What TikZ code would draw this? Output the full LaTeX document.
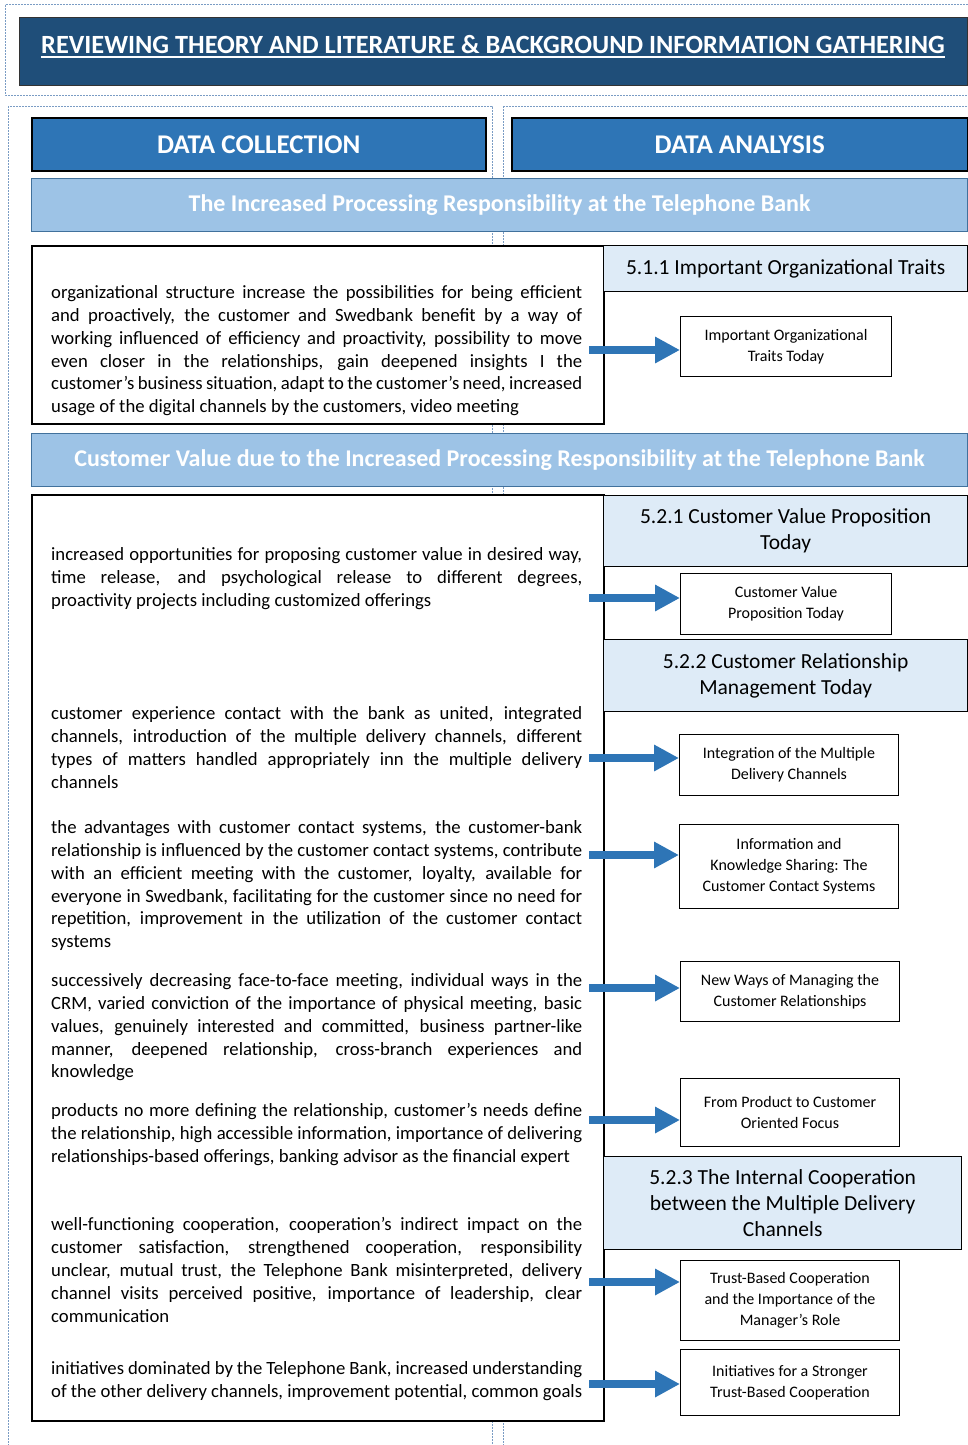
\documentclass[tikz,border=0pt]{standalone}
\usepackage{fontspec}
\setmainfont{Carlito}
\usepackage{tikz}
\usetikzlibrary{positioning}
\usetikzlibrary{arrows.meta}
\definecolor{darkhead}{HTML}{1F4E79}
\definecolor{midblue}{HTML}{2E75B6}
\definecolor{lightband}{HTML}{9DC3E6}
\definecolor{bandline}{HTML}{41719C}
\definecolor{palehead}{HTML}{DEEBF7}
\definecolor{dotline}{HTML}{7A9CC4}

\begin{document}
\begin{tikzpicture}[x=1pt,y=-1pt,
  frame/.style={draw=dotline,line width=1pt,dash pattern=on 2pt off 1pt},
  colhead/.style={draw=black,line width=1.5pt,fill=midblue,text=white,anchor=north west,inner sep=0pt,
    minimum height=53pt,font=\fontsize{27}{30}\selectfont\bfseries},
  band/.style={draw=bandline,line width=1.2pt,fill=lightband,text=white,anchor=north west,inner sep=0pt,
    minimum width=936pt,minimum height=53pt,font=\fontsize{24}{28}\selectfont\bfseries},
  textbox/.style={draw=black,line width=1.5pt,fill=white,anchor=north west,inner sep=0pt,minimum width=572pt},
  section/.style={draw=black,line width=1.3pt,fill=palehead,align=center,anchor=north west,inner sep=0pt,
    font=\fontsize{21.5}{26}\selectfont},
  result/.style={draw=black,line width=1pt,fill=white,align=center,anchor=north west,inner sep=0pt,
    font=\fontsize{16}{21}\selectfont},
  notes/.style={text width=531pt,align=justify,anchor=north west,inner sep=0pt,
    font=\fontsize{18.7}{22.8}\selectfont,
    execute at begin node={\tolerance=9999\relax\hyphenpenalty=10000\relax\exhyphenpenalty=10000\relax}},
  bigarrow/.style={draw=midblue,line width=8pt,-{Triangle[length=25pt,width=25pt]}}
]
\clip (0,0) rectangle (968,1445);
\draw[frame] (5,5) rectangle (980,95);
\draw[frame] (8,106) rectangle (492,1460);
\draw[frame] (503,106) rectangle (980,1460);

\node[draw=black!80,line width=1.2pt,fill=darkhead,anchor=north west,minimum width=948pt,minimum height=68pt] (topbox) at (19,17) {};
\node[anchor=base,inner sep=0pt,text=white,font=\fontsize{26.3}{30}\selectfont\bfseries] (title) at (493,53)
{REVIEWING THEORY AND LITERATURE \& BACKGROUND INFORMATION GATHERING};
\draw[white,line width=2pt] ([yshift=-4pt]title.base west) -- ([yshift=-4pt]title.base east);

\node[colhead,minimum width=454pt] (collect) at (31,117) {DATA COLLECTION};
\node[colhead,minimum width=456pt] (analysis) at (511,117) {DATA ANALYSIS};

\node[band] (band1) at (31,178) {The Increased Processing Responsibility at the Telephone Bank};
\node[band] (band2) at (31,433) {Customer Value due to the Increased Processing Responsibility at the Telephone Bank};

\node[textbox,minimum height=178pt] (box1) at (31,245) {};
\node[textbox,minimum height=926pt] (box2) at (31,494) {};

\node[section,minimum width=364pt,minimum height=46pt] (s511) at (603,245) {5.1.1 Important Organizational Traits};
\node[section,minimum width=364pt,minimum height=71pt] (s521) at (603,495) {5.2.1 Customer Value Proposition\\Today};
\node[section,minimum width=364pt,minimum height=72pt] (s522) at (603,639) {5.2.2 Customer Relationship\\Management Today};
\node[section,minimum width=358pt,minimum height=93pt] (s523) at (603,1156) {5.2.3 The Internal Cooperation\\between the Multiple Delivery\\Channels};

\node[result,minimum width=211pt,minimum height=60pt] (r1) at (680,316) {Important Organizational\\Traits Today};
\node[result,minimum width=211pt,minimum height=61pt] (r2) at (680,573) {Customer Value\\Proposition Today};
\node[result,minimum width=219pt,minimum height=61pt] (r3) at (679,734) {Integration of the Multiple\\Delivery Channels};
\node[result,minimum width=219pt,minimum height=84pt] (r4) at (679,824) {Information and\\Knowledge Sharing: The\\Customer Contact Systems};
\node[result,minimum width=219pt,minimum height=60pt] (r5) at (680,961) {New Ways of Managing the\\Customer Relationships};
\node[result,minimum width=219pt,minimum height=68pt] (r6) at (680,1078) {From Product to Customer\\Oriented Focus};
\node[result,minimum width=219pt,minimum height=80pt] (r7) at (680,1260) {Trust-Based Cooperation\\and the Importance of the\\Manager’s Role};
\node[result,minimum width=219pt,minimum height=66pt] (r8) at (680,1349) {Initiatives for a Stronger\\Trust-Based Cooperation};

\node[notes] (p1) at (51,285.5) {organizational structure increase the possibilities for being efficient\linebreak
and proactively, the customer and Swedbank benefit by a way of\linebreak
working influenced of efficiency and proactivity, possibility to move\linebreak
even closer in the relationships, gain deepened insights I the\linebreak
customer’s business situation, adapt to the customer’s need, increased\linebreak
usage of the digital channels by the customers, video meeting};
\node[notes] (p2) at (51,547.5) {increased opportunities for proposing customer value in desired way,\linebreak
time release, and psychological release to different degrees,\linebreak
proactivity projects including customized offerings};
\node[notes] (p3) at (51,706.5) {customer experience contact with the bank as united, integrated\linebreak
channels, introduction of the multiple delivery channels, different\linebreak
types of matters handled appropriately inn the multiple delivery\linebreak
channels};
\node[notes] (p4) at (51,820.5) {the advantages with customer contact systems, the customer-bank\linebreak
relationship is influenced by the customer contact systems, contribute\linebreak
with an efficient meeting with the customer, loyalty, available for\linebreak
everyone in Swedbank, facilitating for the customer since no need for\linebreak
repetition, improvement in the utilization of the customer contact\linebreak
systems};
\node[notes] (p5) at (51,973.5) {successively decreasing face-to-face meeting, individual ways in the\linebreak
CRM, varied conviction of the importance of physical meeting, basic\linebreak
values, genuinely interested and committed, business partner-like\linebreak
manner, deepened relationship, cross-branch experiences and\linebreak
knowledge};
\node[notes] (p6) at (51,1103.5) {products no more defining the relationship, customer’s needs define\linebreak
the relationship, high accessible information, importance of delivering\linebreak
relationships-based offerings, banking advisor as the financial expert};
\node[notes] (p7) at (51,1217.5) {well-functioning cooperation, cooperation’s indirect impact on the\linebreak
customer satisfaction, strengthened cooperation, responsibility\linebreak
unclear, mutual trust, the Telephone Bank misinterpreted, delivery\linebreak
channel visits perceived positive, importance of leadership, clear\linebreak
communication};
\node[notes] (p8) at (51,1361.5) {initiatives dominated by the Telephone Bank, increased understanding\linebreak
of the other delivery channels, improvement potential, common goals};

\foreach \k/\y in {1/350,2/598,3/758,4/855,5/988,6/1120,7/1282,8/1384}
{
\coordinate (a\k) at (589,\y);
\draw[bigarrow] (a\k) -- (a\k -| r\k.west);
}
\end{tikzpicture}
\end{document}
